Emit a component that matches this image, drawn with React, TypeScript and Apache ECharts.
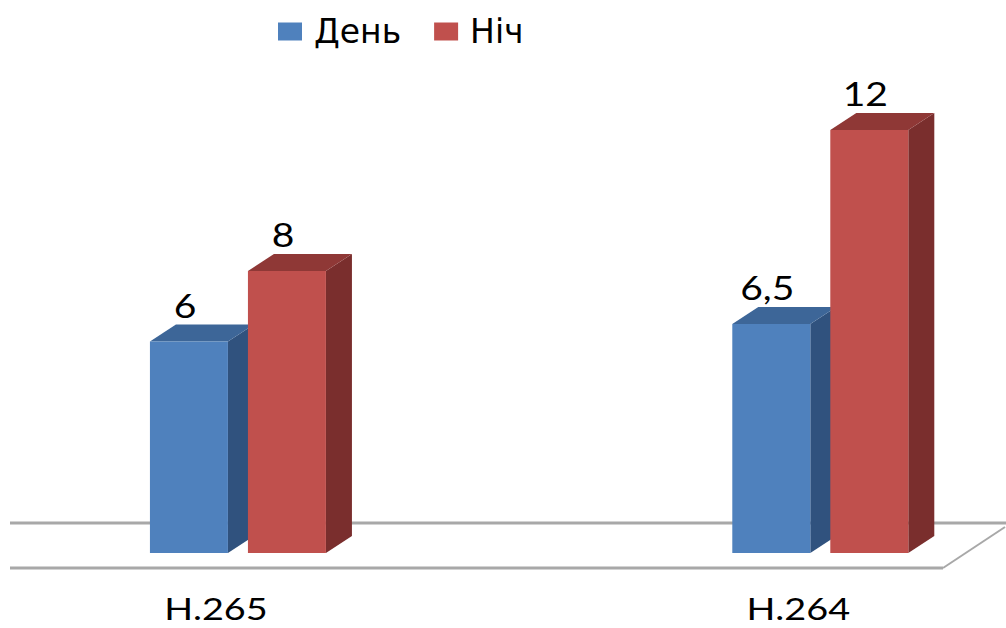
import React, { useEffect, useRef } from "react";
import * as echarts from "echarts";

// Codec comparison: day vs night values per codec
const categories = ["H.265", "H.264"];
const seriesNames = ["День", "Ніч"];
const dayValues = [6, 6.5];
const nightValues = [8, 12];

// Styling for the pseudo-3D columns
const BAR_W = 78;
const GAP = 20;
const DEPTH_X = 26;
const DEPTH_Y = 17;
const TEXT_FONT = "Lato, 'Open Sans', sans-serif";
const TEXT_SCALE_X = 1.22;

const PALETTE = [
  { front: "#4F81BD", top: "#3D6698", side: "#30527E" },
  { front: "#C0504D", top: "#8F3836", side: "#7A2E2D" },
];

const formatValue = (v: number) => String(v).replace(".", ",");

function makeBarRenderer(seriesIndex: number) {
  const colors = PALETTE[seriesIndex];
  return (params: any, api: any) => {
    const idx = api.value(0);
    const val = api.value(1);
    const [cx, top] = api.coord([idx, val]);
    const [, base] = api.coord([idx, 0]);
    const left = seriesIndex === 0 ? cx - GAP / 2 - BAR_W : cx + GAP / 2;
    const right = left + BAR_W;
    const labelX = left + BAR_W / 2 - 4;
    return {
      type: "group",
      children: [
        {
          type: "polygon",
          shape: {
            points: [
              [right, top],
              [right + DEPTH_X, top - DEPTH_Y],
              [right + DEPTH_X, base - DEPTH_Y],
              [right, base],
            ],
          },
          style: { fill: colors.side },
        },
        {
          type: "polygon",
          shape: {
            points: [
              [left, top],
              [right, top],
              [right + DEPTH_X, top - DEPTH_Y],
              [left + DEPTH_X, top - DEPTH_Y],
            ],
          },
          style: { fill: colors.top },
        },
        {
          type: "rect",
          shape: { x: left, y: top, width: BAR_W, height: base - top },
          style: { fill: colors.front },
        },
        {
          type: "text",
          x: labelX,
          y: top - 36,
          scaleX: TEXT_SCALE_X,
          style: {
            text: formatValue(val),
            fontSize: 32,
            fontFamily: TEXT_FONT,
            fill: "#000",
            align: "center",
            verticalAlign: "middle",
          },
        },
      ],
    };
  };
}

function renderFloor(params: any, api: any) {
  const cs = params.coordSys;
  const [, base] = api.coord([0, 0]);
  const backY = base - 30;
  const frontY = base + 15;
  const x0 = cs.x + 5;
  const backRight = cs.x + cs.width + 11;
  const frontRight = cs.x + cs.width - 52;
  const lineStyle = { stroke: "#A8A8A8", lineWidth: 3 };
  return {
    type: "group",
    children: [
      { type: "line", shape: { x1: x0, y1: backY, x2: backRight, y2: backY }, style: lineStyle },
      { type: "line", shape: { x1: x0, y1: frontY, x2: frontRight, y2: frontY }, style: lineStyle },
      {
        type: "line",
        shape: { x1: frontRight, y1: frontY, x2: backRight - 1, y2: backY + 4 },
        style: { stroke: "#A8A8A8", lineWidth: 2 },
      },
    ],
  };
}

function renderCategoryLabel(params: any, api: any) {
  const idx = api.value(0);
  const [cx, base] = api.coord([idx, 0]);
  return {
    type: "text",
    x: cx - 22,
    y: base + 55,
    scaleX: TEXT_SCALE_X,
    style: {
      text: categories[idx],
      fontSize: 31,
      lineHeight: 31,
      fontFamily: TEXT_FONT,
      fill: "#000",
      align: "center",
      verticalAlign: "middle",
    },
  };
}

export default function App() {
  const ref = useRef<HTMLDivElement>(null);

  useEffect(() => {
    if (!ref.current) return;
    const chart = echarts.init(ref.current, null, { renderer: "svg" });
    chart.setOption({
      animation: false,
      backgroundColor: "#ffffff",
      legend: {
        data: seriesNames,
        top: 10,
        left: 273,
        icon: "rect",
        itemWidth: 24,
        itemHeight: 18,
        itemGap: 33,
        selectedMode: false,
        textStyle: {
          fontFamily: "'DejaVu Sans', sans-serif",
          fontSize: 33,
          color: "#000",
          padding: [0, 0, 0, 7],
        },
      },
      grid: { left: 5, right: 11, top: 130, bottom: 75 },
      xAxis: {
        type: "value",
        min: -0.4,
        max: 1.3,
        show: false,
      },
      yAxis: {
        type: "value",
        min: 0,
        max: 12,
        show: false,
      },
      series: [
        {
          type: "custom",
          name: "floor",
          silent: true,
          renderItem: renderFloor,
          data: [[0, 0]],
        },
        {
          type: "custom",
          name: seriesNames[0],
          itemStyle: { color: PALETTE[0].front },
          renderItem: makeBarRenderer(0),
          data: dayValues.map((v, i) => [i, v]),
          encode: { x: 0, y: 1 },
        },
        {
          type: "custom",
          name: seriesNames[1],
          itemStyle: { color: PALETTE[1].front },
          renderItem: makeBarRenderer(1),
          data: nightValues.map((v, i) => [i, v]),
          encode: { x: 0, y: 1 },
        },
        {
          type: "custom",
          name: "categories",
          silent: true,
          renderItem: renderCategoryLabel,
          data: categories.map((_, i) => [i, 0]),
          encode: { x: 0, y: 1 },
        },
      ],
    });
    return () => chart.dispose();
  }, []);

  return (
    <div
      ref={ref}
      style={{ position: "fixed", left: 0, top: 0, width: 1006, height: 628 }}
    />
  );
}
